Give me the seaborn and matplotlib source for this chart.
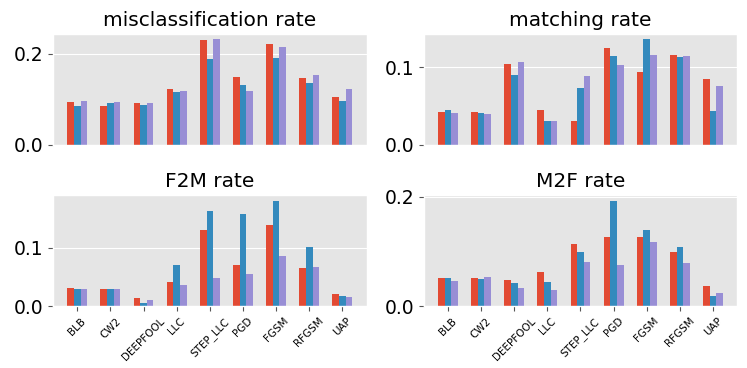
import numpy as np
import pandas as pd
import matplotlib
matplotlib.use("Agg")
import matplotlib.pyplot as plt
from matplotlib.ticker import MultipleLocator
import seaborn as sns

attacks = ["BLB", "CW2", "DEEPFOOL", "LLC", "STEP_LLC", "PGD", "FGSM", "RFGSM", "UAP"]
models = ["model A", "model B", "model C"]
colors = ["#E24A33", "#348ABD", "#988ED5"]

# misclassification rate, one list per model
mis_a = [0.093, 0.084, 0.092, 0.123, 0.231, 0.148, 0.222, 0.146, 0.104]
mis_b = [0.085, 0.091, 0.087, 0.116, 0.188, 0.130, 0.190, 0.136, 0.096]
mis_c = [0.096, 0.094, 0.091, 0.117, 0.232, 0.117, 0.214, 0.152, 0.123]

# matching rate
match_a = [0.042, 0.042, 0.104, 0.045, 0.030, 0.125, 0.093, 0.116, 0.085]
match_b = [0.044, 0.041, 0.090, 0.031, 0.073, 0.114, 0.136, 0.113, 0.043]
match_c = [0.041, 0.039, 0.106, 0.030, 0.088, 0.102, 0.115, 0.114, 0.075]

# F2M rate
f2m_a = [0.032, 0.029, 0.014, 0.042, 0.131, 0.070, 0.140, 0.066, 0.021]
f2m_b = [0.029, 0.029, 0.006, 0.070, 0.163, 0.158, 0.181, 0.101, 0.017]
f2m_c = [0.029, 0.029, 0.011, 0.037, 0.048, 0.056, 0.086, 0.068, 0.015]

# M2F rate
m2f_a = [0.052, 0.052, 0.048, 0.063, 0.113, 0.126, 0.127, 0.099, 0.037]
m2f_b = [0.052, 0.049, 0.043, 0.045, 0.100, 0.193, 0.140, 0.109, 0.018]
m2f_c = [0.046, 0.054, 0.034, 0.029, 0.080, 0.076, 0.117, 0.079, 0.025]

panels = [
    ("misclassification rate", [mis_a, mis_b, mis_c], 0.2),
    ("matching rate", [match_a, match_b, match_c], 0.1),
    ("F2M rate", [f2m_a, f2m_b, f2m_c], 0.1),
    ("M2F rate", [m2f_a, m2f_b, m2f_c], 0.2),
]

plt.style.use("ggplot")
fig, axes = plt.subplots(2, 2, figsize=(7.47, 3.68), dpi=100)
fig.subplots_adjust(left=0.071, right=0.987, top=0.908, bottom=0.168,
                    wspace=0.182, hspace=0.46)

for i, (ax, (title, series, step)) in enumerate(zip(axes.flat, panels)):
    df = pd.DataFrame({
        "attack": attacks * 3,
        "model": np.repeat(models, len(attacks)),
        "value": np.concatenate(series),
    })
    sns.barplot(data=df, x="attack", y="value", hue="model", order=attacks,
                hue_order=models, palette=colors, width=0.6, saturation=1,
                errorbar=None, linewidth=0, legend=False, ax=ax)
    ax.set_xlim(-0.73, 8.73)
    ax.set_title(title, fontsize=14.5, color="black")
    ax.set_xlabel("")
    ax.set_ylabel("")
    ax.yaxis.set_major_locator(MultipleLocator(step))
    ax.tick_params(axis="y", labelsize=13.5, labelcolor="black")
    if i < 2:
        ax.set_xticks([])
    else:
        ax.tick_params(axis="x", labelsize=7.5, labelrotation=45, labelcolor="black")

fig.savefig("out.png", dpi=100)
